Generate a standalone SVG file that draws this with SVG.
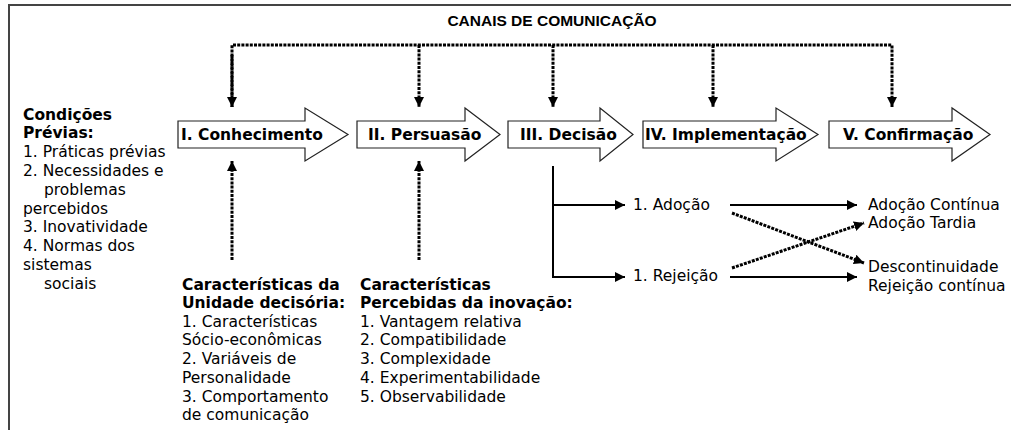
<svg xmlns="http://www.w3.org/2000/svg" width="1011" height="430" viewBox="0 0 1011 430">
<style>
.frame{fill:none;stroke:#444;stroke-width:2}
.arr{fill:#fff;stroke:#222;stroke-width:1.2}
.lbl{font-family:"DejaVu Sans",Verdana,sans-serif;font-weight:bold;font-size:15.5px;fill:#000}
.t{font-family:"DejaVu Sans",Verdana,sans-serif;font-size:15.5px;fill:#000}
.tb{font-family:"DejaVu Sans",Verdana,sans-serif;font-size:15.5px;font-weight:bold;fill:#000}
.title{font-family:"Liberation Sans",Arial,sans-serif;font-weight:bold;font-size:15.5px;fill:#000}
.dot{fill:none;stroke:#000;stroke-width:3;stroke-dasharray:3 1.2}
.sol{fill:none;stroke:#000;stroke-width:2}
</style>
<defs>
<marker id="ah" viewBox="0 0 10 10" refX="10" refY="5" markerWidth="10" markerHeight="10" markerUnits="userSpaceOnUse" orient="auto"><path d="M0,0 L10,5 L0,10 Z" fill="#000"/></marker>
</defs>
<rect x="0" y="0" width="1011" height="430" fill="#fff"/>
<path class="frame" d="M9,430 V5 H1011"/>
<text class="title" x="552" y="26" text-anchor="middle">CANAIS DE COMUNICAÇÃO</text>

<g id="stage1"><path class="arr" d="M178,121 H305 V108 L348,134.5 L305,161 V148 H178 Z"/><text class="lbl" x="181" y="140">I. Conhecimento</text></g>
<g id="stage2"><path class="arr" d="M357,121 H465 V108 L500,134.5 L465,161 V148 H357 Z"/><text class="lbl" x="368" y="140">II. Persuasão</text></g>
<g id="stage3"><path class="arr" d="M508,121 H600 V108 L633,134.5 L600,161 V148 H508 Z"/><text class="lbl" x="520" y="140">III. Decisão</text></g>
<g id="stage4"><path class="arr" d="M643,121 H776 V108 L818,134.5 L776,161 V148 H643 Z"/><text class="lbl" x="645" y="140">IV. Implementação</text></g>
<g id="stage5"><path class="arr" d="M829,121 H952 V108 L990,134.5 L952,161 V148 H829 Z"/><text class="lbl" x="843" y="140">V. Confirmação</text></g>

<g id="connectors">
<path class="dot" d="M232,107 V45 H892 V107" marker-end="url(#ah)"/>
<path class="dot" d="M232,55 V107" marker-end="url(#ah)"/>
<path class="dot" d="M419,45 V107" marker-end="url(#ah)"/>
<path class="dot" d="M553,45 V107" marker-end="url(#ah)"/>
<path class="dot" d="M713,45 V107" marker-end="url(#ah)"/>
<path class="dot" d="M232,260 V161" marker-end="url(#ah)"/>
<path class="dot" d="M419,260 V161" marker-end="url(#ah)"/>
<path class="sol" d="M553,166 V277 H625" marker-end="url(#ah)"/>
<path class="sol" d="M553,205 H625" marker-end="url(#ah)"/>
<path class="sol" d="M730,205 H857" marker-end="url(#ah)"/>
<path class="sol" d="M730,277 H857" marker-end="url(#ah)"/>
<path class="dot" d="M732,213 L864,263" marker-end="url(#ah)"/>
<path class="dot" d="M732,268 L864,223" marker-end="url(#ah)"/>
</g>

<g id="prior">
<text class="tb" x="23" y="120">Condições</text>
<text class="tb" x="23" y="138">Prévias:</text>
<text class="t" x="23" y="157">1. Práticas prévias</text>
<text class="t" x="23" y="176">2. Necessidades e</text>
<text class="t" x="44" y="195">problemas</text>
<text class="t" x="23" y="214">percebidos</text>
<text class="t" x="23" y="232">3. Inovatividade</text>
<text class="t" x="23" y="251">4. Normas dos</text>
<text class="t" x="23" y="270">sistemas</text>
<text class="t" x="44" y="289">sociais</text>
</g>

<g id="unit">
<text class="tb" x="182" y="290">Características da</text>
<text class="tb" x="182" y="308">Unidade decisória:</text>
<text class="t" x="182" y="327">1. Características</text>
<text class="t" x="182" y="345">Sócio-econômicas</text>
<text class="t" x="182" y="364">2. Variáveis de</text>
<text class="t" x="182" y="383">Personalidade</text>
<text class="t" x="182" y="402">3. Comportamento</text>
<text class="t" x="182" y="420">de comunicação</text>
</g>

<g id="innov">
<text class="tb" x="360" y="290">Características</text>
<text class="tb" x="360" y="308">Percebidas da inovação:</text>
<text class="t" x="360" y="327">1. Vantagem relativa</text>
<text class="t" x="360" y="345">2. Compatibilidade</text>
<text class="t" x="360" y="364">3. Complexidade</text>
<text class="t" x="360" y="383">4. Experimentabilidade</text>
<text class="t" x="360" y="402">5. Observabilidade</text>
</g>

<g id="decision">
<text class="t" x="633" y="210">1. Adoção</text>
<text class="t" x="633" y="281">1. Rejeição</text>
<text class="t" x="868" y="210">Adoção Contínua</text>
<text class="t" x="868" y="228">Adoção Tardia</text>
<text class="t" x="868" y="272">Descontinuidade</text>
<text class="t" x="868" y="291">Rejeição contínua</text>
</g>
</svg>
